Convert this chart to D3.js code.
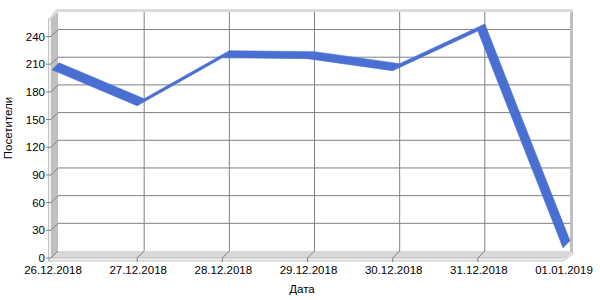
<!DOCTYPE html>
<html><head><meta charset="utf-8">
<script src="https://cdn.jsdelivr.net/npm/d3@7"></script>
<style>body{margin:0;background:#fff}svg{display:block}text{font-family:"Liberation Sans",Arial,sans-serif;font-size:11.5px;fill:#000}</style>
</head><body>
<svg id="c" width="600" height="300"></svg>
<script>
const categories = ["26.12.2018","27.12.2018","28.12.2018","29.12.2018","30.12.2018","31.12.2018","01.01.2019"];
const visitors = [204, 165, 217, 216, 203, 246, 11];
const yTicks = [0, 30, 60, 90, 120, 150, 180, 210, 240];
const xTitle = "Дата";
const yTitle = "Посетители";

const svg = d3.select("#c");
const DX = 7, DY = -7;           // 3D depth offset
const x = d3.scalePoint().domain(categories).range([52, 563]);   // front plane
const yB = d3.scaleLinear().domain([0, 259]).range([251, 12]);   // back plane
const yF = v => yB(v) - DY;

const xF0 = x.range()[0]-1, xF1 = x.range()[1];
const yFb = yF(0), yFt = yF(259);
const xB0 = xF0 + DX, xB1 = xF1 + DX, yBb = yB(0), yBt = yB(259);

// back wall
svg.append("rect").attr("x", xB0).attr("y", yBt).attr("width", xB1-xB0).attr("height", yBb-yBt).attr("fill","#fff");
// back wall top thickness
svg.append("polygon").attr("points", [[xF0-2,yFt],[xB0-2,yBt-3],[xB1+3,yBt-3],[xB1+3,yBt],[xB0,yBt],[xF0+1,yFt]].join(" "))
  .attr("fill","#dcdcdc");
// right wall thickness
svg.append("rect").attr("x", xB1).attr("y", yBt).attr("width", 3).attr("height", yBb-yBt).attr("fill","#c0c0c0");
// left wall
svg.append("polygon").attr("points", [[xF0,yFb],[xF0,yFt],[xB0,yBt],[xB0,yBb]].join(" ")).attr("fill","#c0c0c0");
svg.append("rect").attr("x", xF0-2.5).attr("y", yFt).attr("width", 3).attr("height", yFb-yFt+3)
  .attr("fill","#f0f0f0").attr("stroke","#b8b8b8").attr("stroke-width",0.8);
// floor
svg.append("polygon").attr("points", [[xF0,yFb],[xF1,yFb],[xB1,yBb],[xB0,yBb]].join(" ")).attr("fill","#d8d8d8");
svg.append("polygon").attr("points", [[xF0-2,yFb],[xF1,yFb],[xB1+3,yBb],[xB1+3,yBb+3],[xF1,yFb+3],[xF0-2,yFb+3]].join(" "))
  .attr("fill","#f0f0f0").attr("stroke","#b8b8b8").attr("stroke-width",0.8);
svg.append("polygon").attr("points", [[xB1,yBb],[xB1+3,yBb],[xF1+3,yFb],[xF1,yFb]].join(" ")).attr("fill","#d0d0d0");

const grid = "#808080";
// horizontal gridlines + left-wall diagonals + ticks
yTicks.forEach(v => {
  if (v > 0) svg.append("line").attr("x1", xB0).attr("x2", xB1).attr("y1", yB(v)).attr("y2", yB(v)).attr("stroke", grid);
  svg.append("path").attr("d", `M${xF0-5},${yF(v)}H${xF0}L${xB0},${yB(v)}`).attr("fill","none").attr("stroke", grid);
  svg.append("text").attr("x", 45).attr("y", yF(v)).attr("dy","0.35em").attr("text-anchor","end").text(v);
});
// vertical gridlines + floor diagonals + ticks
categories.forEach((c, i) => {
  const xf = x(c);
  if (i > 0 && i < categories.length-1)
    svg.append("line").attr("x1", xf+DX).attr("x2", xf+DX).attr("y1", yBt).attr("y2", yBb).attr("stroke", grid);
  if (i > 0 && i < categories.length-1)
    svg.append("path").attr("d", `M${xf},${yFb+4}V${yFb}L${xf+DX},${yBb}`).attr("fill","none").attr("stroke", grid);
  svg.append("text").attr("x", xf+1).attr("y", 270).attr("dy","0.35em").attr("text-anchor","middle").text(c);
});

// ribbon
const pts = visitors.map((v,i) => [x(categories[i]), yF(v)]);
for (let i = 0; i < pts.length-1; i++) {
  const a = pts[i], b = pts[i+1];
  svg.append("polygon").attr("points", [a, b, [b[0]+DX,b[1]+DY], [a[0]+DX,a[1]+DY]].join(" "))
    .attr("fill","#4a6fd2").attr("stroke","#4a6fd2").attr("stroke-width",0.6).attr("stroke-linejoin","round");
}

svg.append("text").attr("x", 302).attr("y", 289).attr("dy","0.35em").attr("text-anchor","middle").text(xTitle);
svg.append("text").attr("transform","translate(8,128) rotate(-90)").attr("dy","0.35em").attr("text-anchor","middle").text(yTitle);
</script>
</body></html>
